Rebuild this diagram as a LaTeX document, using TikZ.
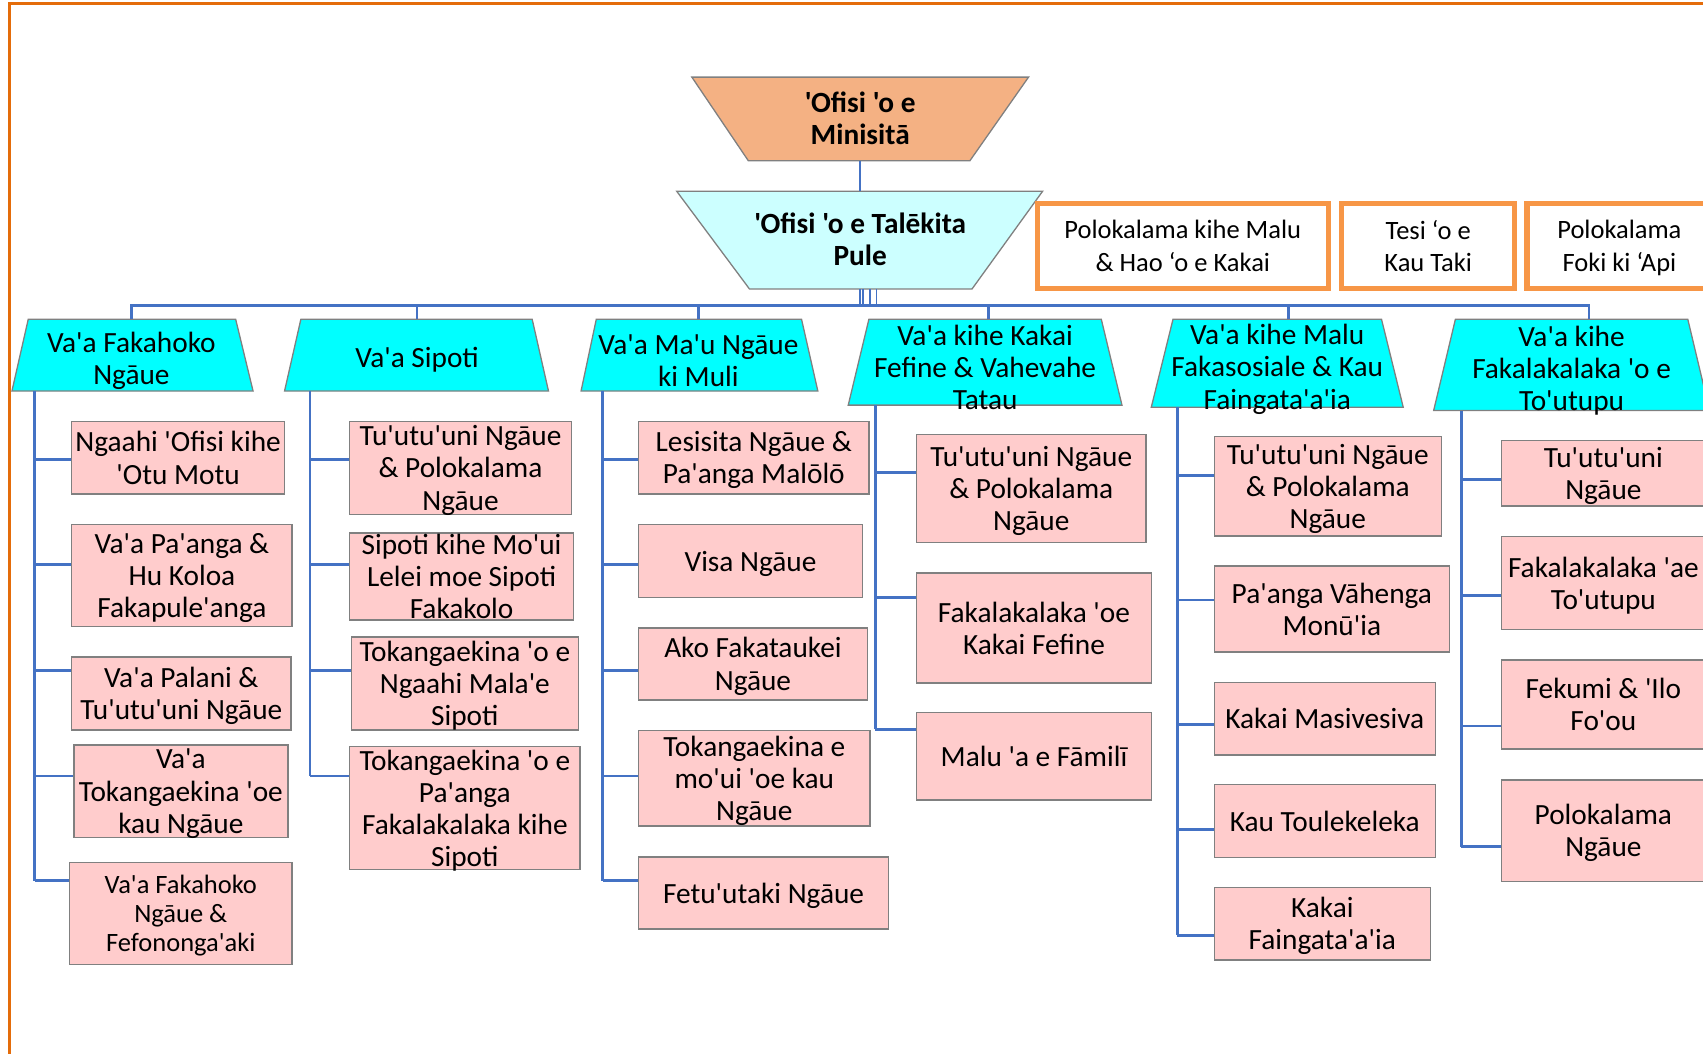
\documentclass[tikz,border=0pt]{standalone}
\usepackage{fontspec}
\setmainfont{Carlito}[Ligatures=TeXOff]
\definecolor{frameor}{RGB}{228,108,10}
\definecolor{boxor}{RGB}{247,150,70}
\definecolor{minfill}{RGB}{244,177,131}
\definecolor{talfill}{RGB}{204,255,255}
\definecolor{cyanf}{RGB}{0,255,255}
\definecolor{pinkf}{RGB}{255,204,204}
\definecolor{edgegrey}{RGB}{128,128,128}
\definecolor{connblue}{RGB}{68,114,196}
\newcommand\fsmain{\fontsize{13.5}{14.8}\selectfont}
\newcommand\fssmall{\fontsize{12.2}{13.3}\selectfont}
\newcommand\fsorange{\fontsize{12.2}{15}\selectfont}
\tikzset{
  conn/.style={draw=connblue, line width=1.3pt},
  thinconn/.style={draw=connblue, line width=0.9pt},
  trap/.style={draw=edgegrey, line width=0.6pt},
  txt/.style={align=center, font=\fsmain, inner sep=0pt, yshift=-1.5pt},
  toptxt/.style={align=center, font=\fsmain\bfseries, inner sep=0pt},
  span/.style args={#1/#2/#3/#4}{minimum width={(#3-#1)*0.5pt}, minimum height={(#4-#2)*0.5pt},
     at={({(#1+#3)/2},{(#2+#4)/2})}},
  child/.style={draw=edgegrey, fill=pinkf, line width=0.7pt, inner sep=0pt, align=center, font=\fsmain, text depth=0pt},
  obox/.style={draw=boxor, line width=2.4pt, fill=white, inner sep=0pt, align=center, font=\fsorange, text depth=-3pt},
}
\newcommand\stubline[3]{\draw[conn] (#1 |- 0,#3) -- (#2.west |- 0,#3);}
\begin{document}
\begin{tikzpicture}[x=0.5pt,y=-0.5pt]
\useasboundingbox (0,0) rectangle (1568,970);
\begin{scope}
\clip (0,0) rectangle (1568,970);
% frame
\draw[frameor, line width=1.5pt] (9,1100) -- (9,3) -- (1700,3);

% top nodes
\filldraw[trap, fill=minfill] (637,71) -- (947,71) -- (893,148) -- (689,148) -- cycle;
\node[toptxt] (min) at (792,109) {'Ofisi 'o e\\Minisitā};
\filldraw[trap, fill=talfill] (623,176) -- (960,176) -- (895,266) -- (690,266) -- cycle;
\node[toptxt] (tal) at (792,220) {'Ofisi 'o e Talēkita\\Pule};
\coordinate (minb) at (792,148);
\coordinate (talt) at (792,176);
\coordinate (talb) at (792,266);
\coordinate (bus) at (0,281);
\draw[thinconn] (minb) -- (talt);
\draw[thinconn] (talb) -- (talb |- bus);
\draw[thinconn] ([xshift=1.5pt]talb) -- ([xshift=1.5pt]talb |- bus);
\draw[thinconn] ([xshift=4.5pt]talb) -- ([xshift=4.5pt]talb |- bus);
\draw[thinconn] ([xshift=7.5pt]talb) -- ([xshift=7.5pt]talb |- bus);

% orange boxes
\node[obox, span=955/187/1223/265.5] (o1) {Polokalama kihe Malu\\\& Hao ‘o e Kakai};
\node[obox, span=1235.5/187/1394.5/265.5] (o2) {Tesi ‘o e\\Kau Taki};
\node[obox, span=1406/187/1576/265.5] (o3) {Polokalama\\Foki ki ‘Api};

% headers
\filldraw[trap, fill=cyanf] (26,294) -- (217,294) -- (233,360) -- (11,360) -- cycle;
\node[txt] (h1) at (121,329) {Va'a Fakahoko\\Ngāue};
\filldraw[trap, fill=cyanf] (277,294) -- (490,294) -- (505,360) -- (262,360) -- cycle;
\node[txt] (h2) at (384,328) {Va'a Sipoti};
\filldraw[trap, fill=cyanf] (549,294) -- (738,294) -- (753,360) -- (535,360) -- cycle;
\node[txt] (h3) at (643,329) {Va'a Ma'u Ngāue\\ki Muli};
\filldraw[trap, fill=cyanf] (800,294) -- (1014,294) -- (1033,373) -- (781,373) -- cycle;
\node[txt] (h4) at (907,335) {Va'a kihe Kakai\\Fefine \& Vahevahe\\Tatau};
\filldraw[trap, fill=cyanf] (1080,294) -- (1272,294) -- (1292,375) -- (1060,375) -- cycle;
\node[txt] (h5) at (1176,337) {Va'a kihe Malu\\Fakasosiale \& Kau\\Faingata'a'ia};
\filldraw[trap, fill=cyanf] (1340,294) -- (1554,294) -- (1574,378) -- (1320,378) -- cycle;
\node[txt] (h6) at (1447,338) {Va'a kihe\\Fakalakalaka 'o e\\To'utupu};

\coordinate (h1t) at (121,294);
\coordinate (h2t) at (384,294);
\coordinate (h3t) at (643,294);
\coordinate (h4t) at (910,294);
\coordinate (h5t) at (1186,294);
\coordinate (h6t) at (1463,294);
\draw[conn] (h1t) -- (h1t |- bus) -| (h6t);
\foreach \h in {h2t,h3t,h4t,h5t}{\draw[conn] (\h) -- (\h |- bus);}

% column 1
\node[child, span=66/388/262/455] (c11) {Ngaahi 'Ofisi kihe\\'Otu Motu};
\node[child, span=66/483/269/577] (c12) {Va'a Pa'anga \&\\Hu Koloa\\Fakapule'anga};
\node[child, span=66/605/268/672] (c13) {Va'a Palani \&\\Tu'utu'uni Ngāue};
\node[child, span=68/686/265/771] (c14) {Va'a\\Tokangaekina 'oe\\kau Ngāue};
\node[child, font=\fssmall, span=64/794/269/888] (c15) {Va'a Fakahoko\\Ngāue \&\\Fefononga'aki};
\coordinate (t1) at (32,360);
\draw[conn] (t1) -- (t1 |- 0,811);
\stubline{t1}{c11}{423}
\stubline{t1}{c12}{520}
\stubline{t1}{c13}{617}
\stubline{t1}{c14}{714.5}
\stubline{t1}{c15}{811}

% column 2
\node[child, span=322/388/526/473.5] (c21) {Tu'utu'uni Ngāue\\\& Polokalama\\Ngāue};
\node[child, span=322/490.5/528/571] (c22) {Sipoti kihe Mo'ui\\Lelei moe Sipoti\\Fakakolo};
\node[child, span=323.5/586.5/532.5/672] (c23) {Tokangaekina 'o e\\Ngaahi Mala'e\\Sipoti};
\node[child, span=322/687.5/534/800.5] (c24) {Tokangaekina 'o e\\Pa'anga\\Fakalakalaka kihe\\Sipoti};
\coordinate (t2) at (285.5,360);
\draw[conn] (t2) -- (t2 |- 0,714.5);
\stubline{t2}{c21}{423}
\stubline{t2}{c22}{520}
\stubline{t2}{c23}{617}
\stubline{t2}{c24}{714.5}

% column 3
\node[child, span=588/388/800/455] (c31) {Lesisita Ngāue \&\\Pa'anga Malōlō};
\node[child, span=588/483/794/550] (c32) {Visa Ngāue};
\node[child, span=588/578/798.5/644.5] (c33) {Ako Fakataukei\\Ngāue};
\node[child, span=588/672.5/801/760.5] (c34) {Tokangaekina e\\mo'ui 'oe kau\\Ngāue};
\node[child, span=588/789/818/855.5] (c35) {Fetu'utaki Ngāue};
\coordinate (t3) at (555,360);
\draw[conn] (t3) -- (t3 |- 0,811);
\stubline{t3}{c31}{423}
\stubline{t3}{c32}{520}
\stubline{t3}{c33}{617}
\stubline{t3}{c34}{714.5}
\stubline{t3}{c35}{811}

% column 4
\node[child, span=844/400/1055/499.5] (c41) {Tu'utu'uni Ngāue\\\& Polokalama\\Ngāue};
\node[child, span=844/527.5/1060/629] (c42) {Fakalakalaka 'oe\\Kakai Fefine};
\node[child, span=844/656/1060/736.5] (c43) {Malu 'a e Fāmilī};
\coordinate (t4) at (806,373);
\draw[conn] (t4) -- (t4 |- 0,671.5);
\stubline{t4}{c41}{435}
\stubline{t4}{c42}{550}
\stubline{t4}{c43}{671.5}

% column 5
\node[child, span=1118/402/1327/493.5] (c51) {Tu'utu'uni Ngāue\\\& Polokalama\\Ngāue};
\node[child, span=1118/521/1334.5/600.5] (c52) {Pa'anga Vāhenga\\Monū'ia};
\node[child, span=1118/628.5/1321.5/695] (c53) {Kakai Masivesiva};
\node[child, span=1118/722.5/1321.5/789.5] (c54) {Kau Toulekeleka};
\node[child, span=1118/817/1317/884] (c55) {Kakai\\Faingata'a'ia};
\coordinate (t5) at (1084,375);
\draw[conn] (t5) -- (t5 |- 0,861);
\stubline{t5}{c51}{437.5}
\stubline{t5}{c52}{552.5}
\stubline{t5}{c53}{667}
\stubline{t5}{c54}{764}
\stubline{t5}{c55}{861}

% column 6
\node[child, span=1382.5/405.5/1570/466] (c61) {Tu'utu'uni\\Ngāue};
\node[child, span=1382.5/494/1570/579.5] (c62) {Fakalakalaka 'ae\\To'utupu};
\node[child, span=1382.5/607.5/1570/689.5] (c63) {Fekumi \& 'Ilo\\Fo'ou};
\node[child, span=1382.5/718/1570/811.5] (c64) {Polokalama\\Ngāue};
\coordinate (t6) at (1345.5,378);
\draw[conn] (t6) -- (t6 |- 0,779.5);
\stubline{t6}{c61}{441.5}
\stubline{t6}{c62}{548}
\stubline{t6}{c63}{668.5}
\stubline{t6}{c64}{779.5}
\end{scope}
\end{tikzpicture}
\end{document}
